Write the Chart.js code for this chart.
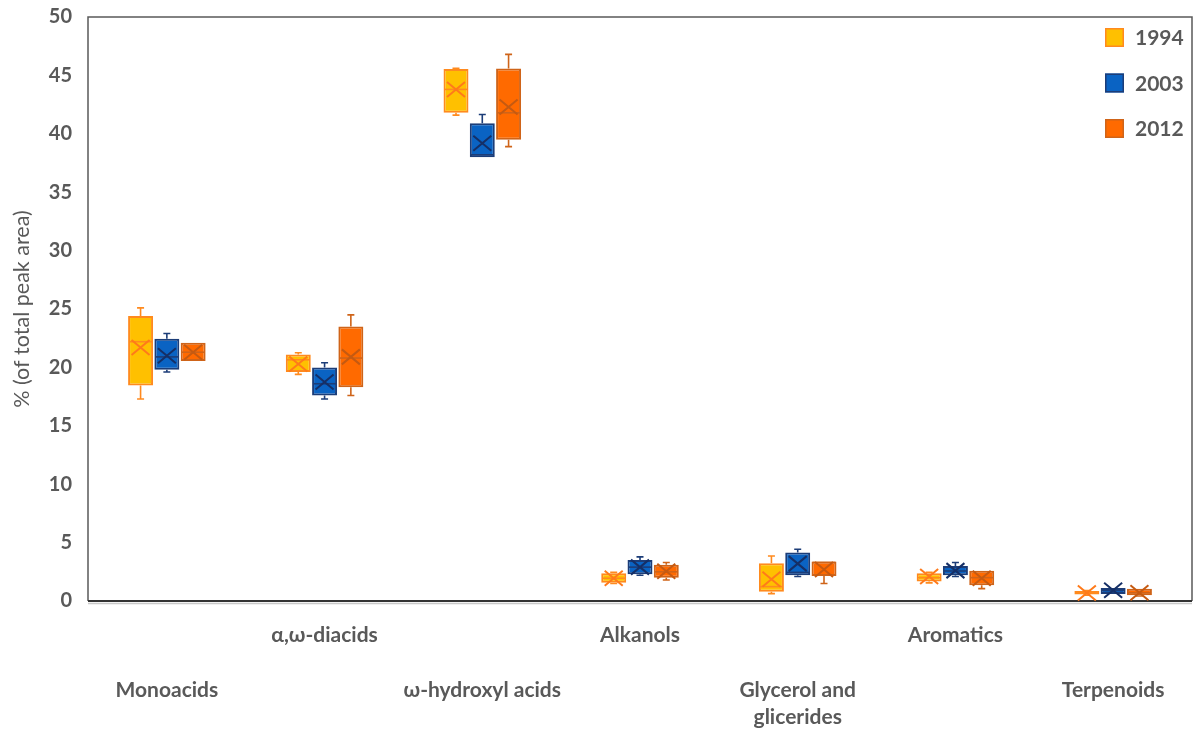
<!DOCTYPE html>
<html>
<head>
<meta charset="utf-8">
<script src="https://cdn.jsdelivr.net/npm/chart.js@4.4.1/dist/chart.umd.min.js"></script>
<style>
  html, body { margin: 0; padding: 0; background: #ffffff; }
  #wrap { width: 1198px; height: 729px; }
</style>
</head>
<body>
<div id="wrap"><canvas id="c" width="1198" height="729"></canvas></div>
<script>
// Compound classes on the x axis
const categories = ['Monoacids', 'α,ω-diacids', 'ω-hydroxyl acids', 'Alkanols', ['Glycerol and', 'glicerides'], 'Aromatics', 'Terpenoids'];
const years = ['1994', '2003', '2012'];
const yTicks = [0, 5, 10, 15, 20, 25, 30, 35, 40, 45, 50];

// Box-plot statistics, % of total peak area
const min1994    = [17.3, 19.4, 41.6, 1.50, 0.63, 1.55, 0.50];
const q1_1994    = [18.45, 19.6, 41.8, 1.57, 0.80, 1.66, 0.55];
const median1994 = [22.2, 20.65, 43.8, 1.95, 1.23, 2.00, 0.70];
const q3_1994    = [24.4, 21.1, 45.55, 2.38, 3.23, 2.38, 0.85];
const max1994    = [25.1, 21.25, 45.6, 2.45, 3.85, 2.45, 0.90];
const mean1994   = [21.7, 20.3, 43.8, 1.95, 1.86, 2.10, 0.68];

const min2003    = [19.6, 17.3, 38.0, 2.20, 2.10, 2.10, 0.57];
const q1_2003    = [19.8, 17.6, 38.0, 2.30, 2.20, 2.20, 0.60];
const median2003 = [20.9, 18.6, 38.2, 2.90, 2.45, 2.57, 0.90];
const q3_2003    = [22.45, 20.0, 40.9, 3.50, 4.15, 3.00, 1.12];
const max2003    = [22.9, 20.4, 41.65, 3.78, 4.43, 3.30, 1.15];
const mean2003   = [21.0, 18.75, 39.2, 2.90, 3.20, 2.60, 0.92];

const min2012    = [20.55, 17.6, 38.9, 1.80, 1.50, 1.06, 0.43];
const q1_2012    = [20.55, 18.3, 39.5, 2.00, 2.15, 1.35, 0.50];
const median2012 = [21.3, 20.8, 41.8, 2.50, 3.30, 2.00, 0.70];
const q3_2012    = [22.1, 23.5, 45.6, 3.10, 3.38, 2.58, 1.05];
const max2012    = [22.1, 24.5, 46.8, 3.30, 3.40, 2.60, 1.09];
const mean2012   = [21.3, 20.9, 42.3, 2.55, 2.70, 1.95, 0.71];

const TEXT = '#595959';
const FONT = "Lato, 'Open Sans', sans-serif";

const styles = [
  { fill: '#FFC000', border: '#FF8A1E', line: '#FF7A1A' },
  { fill: '#0A63C3', border: '#1C3D78', line: '#152F66' },
  { fill: '#FF6A00', border: '#CF6419', line: '#C55A11' }
];

const stats = [
  { min: min1994, q1: q1_1994, median: median1994, q3: q3_1994, max: max1994, mean: mean1994 },
  { min: min2003, q1: q1_2003, median: median2003, q3: q3_2003, max: max2003, mean: mean2003 },
  { min: min2012, q1: q1_2012, median: median2012, q3: q3_2012, max: max2012, mean: mean2012 }
];

const datasets = years.map((yr, k) => ({
  label: yr,
  data: stats[k].q1.map((v, i) => [v, stats[k].q3[i]]),
  backgroundColor: styles[k].fill,
  borderColor: styles[k].border,
  borderWidth: 2,
  borderSkipped: false,
  categoryPercentage: 0.5,
  barPercentage: 0.95,
  stats: stats[k],
  lineColor: styles[k].line
}));

// Plot frame: left, top and right edges plus the dark baseline
const framePlugin = {
  id: 'frame',
  beforeDatasetsDraw(chart) {
    const { ctx, chartArea: a } = chart;
    ctx.save();
    ctx.strokeStyle = '#5a5a5a';
    ctx.lineWidth = 1.5;
    ctx.beginPath();
    ctx.moveTo(a.left, a.bottom);
    ctx.lineTo(a.left, a.top);
    ctx.lineTo(a.right, a.top);
    ctx.lineTo(a.right, a.bottom);
    ctx.stroke();
    ctx.strokeStyle = '#c8c8c8';
    ctx.lineWidth = 1.5;
    ctx.beginPath();
    ctx.moveTo(a.left, a.bottom + 2.5);
    ctx.lineTo(a.right, a.bottom + 2.5);
    ctx.stroke();
    ctx.strokeStyle = '#333333';
    ctx.lineWidth = 2;
    ctx.beginPath();
    ctx.moveTo(a.left, a.bottom);
    ctx.lineTo(a.right, a.bottom);
    ctx.stroke();
    ctx.restore();
  }
};

// Whiskers, median line and mean cross for every box
const boxPlugin = {
  id: 'boxDetails',
  afterDatasetsDraw(chart) {
    const { ctx } = chart;
    const yS = chart.scales.y;
    chart.data.datasets.forEach((ds, di) => {
      const meta = chart.getDatasetMeta(di);
      const s = ds.stats;
      meta.data.forEach((bar, i) => {
        const x = bar.x;
        const hw = bar.width / 2;
        const yMin = yS.getPixelForValue(s.min[i]);
        const yQ1 = yS.getPixelForValue(s.q1[i]);
        const yQ3 = yS.getPixelForValue(s.q3[i]);
        const yMax = yS.getPixelForValue(s.max[i]);
        const yMed = yS.getPixelForValue(s.median[i]);
        const yMean = yS.getPixelForValue(s.mean[i]);
        ctx.save();
        ctx.lineCap = 'butt';
        // whiskers
        ctx.strokeStyle = ds.borderColor;
        ctx.lineWidth = 1.6;
        ctx.beginPath();
        if (yMax < yQ3 - 0.5) {
          ctx.moveTo(x, yQ3); ctx.lineTo(x, yMax);
          ctx.moveTo(x - 3.5, yMax); ctx.lineTo(x + 3.5, yMax);
        }
        if (yMin > yQ1 + 0.5) {
          ctx.moveTo(x, yQ1); ctx.lineTo(x, yMin);
          ctx.moveTo(x - 3.5, yMin); ctx.lineTo(x + 3.5, yMin);
        }
        ctx.stroke();
        // median
        ctx.beginPath();
        ctx.moveTo(x - hw + 1, yMed);
        ctx.lineTo(x + hw - 1, yMed);
        ctx.stroke();
        // mean marker
        ctx.strokeStyle = ds.lineColor;
        ctx.lineWidth = 2;
        ctx.beginPath();
        ctx.moveTo(x - 9, yMean - 7.5); ctx.lineTo(x + 9, yMean + 7.5);
        ctx.moveTo(x - 9, yMean + 7.5); ctx.lineTo(x + 9, yMean - 7.5);
        ctx.stroke();
        ctx.restore();
      });
    });
  }
};

// Legend inside the plot, top right
const legendPlugin = {
  id: 'boxLegend',
  afterDraw(chart) {
    const { ctx, chartArea: a } = chart;
    ctx.save();
    chart.data.datasets.forEach((ds, k) => {
      const cy = a.top + 20.5 + k * 45.5;
      const sx = a.right - 87;
      ctx.fillStyle = ds.backgroundColor;
      ctx.fillRect(sx, cy - 9.5, 19, 19);
      ctx.strokeStyle = ds.borderColor;
      ctx.lineWidth = 1.5;
      ctx.strokeRect(sx + 0.75, cy - 8.75, 17.5, 17.5);
      ctx.fillStyle = TEXT;
      ctx.font = `700 21px ${FONT}`;
      ctx.textAlign = 'left';
      ctx.textBaseline = 'middle';
      ctx.fillText(ds.label, sx + 30, cy + 1);
    });
    ctx.restore();
  }
};

new Chart(document.getElementById('c'), {
  type: 'bar',
  data: { labels: categories, datasets },
  options: {
    responsive: false,
    devicePixelRatio: 1,
    animation: false,
    layout: { padding: { top: 17, right: 6, left: 0, bottom: 0 } },
    plugins: { legend: { display: false }, tooltip: { enabled: false } },
    scales: {
      x: {
        grid: { display: false, drawTicks: false },
        border: { display: false },
        ticks: {
          autoSkip: false,
          maxRotation: 0,
          minRotation: 0,
          padding: 20,
          color: TEXT,
          font: { family: FONT, size: 21, weight: '700', lineHeight: '27.5px' },
          callback(value, index) {
            const lbl = categories[index];
            const lines = Array.isArray(lbl) ? lbl : [lbl];
            return index % 2 === 0 ? ['', '', ...lines] : lines;
          }
        },
        afterFit(scale) { scale.height = 128; scale.paddingLeft = 0; scale.paddingRight = 0; }
      },
      y: {
        min: 0,
        max: 50,
        grid: { display: false, drawTicks: false },
        border: { display: false },
        afterBuildTicks(scale) { scale.ticks = yTicks.map(v => ({ value: v })); },
        ticks: {
          padding: 16,
          color: TEXT,
          font: { family: FONT, size: 20, weight: '700' }
        },
        title: {
          display: true,
          text: '% (of total peak area)',
          color: TEXT,
          font: { family: FONT, size: 21.5, weight: '400' },
          padding: { top: 9, bottom: 0 }
        },
        afterFit(scale) { scale.width = 88; scale.paddingTop = 0; scale.paddingBottom = 0; }
      }
    }
  },
  plugins: [framePlugin, boxPlugin, legendPlugin]
});
</script>
</body>
</html>
